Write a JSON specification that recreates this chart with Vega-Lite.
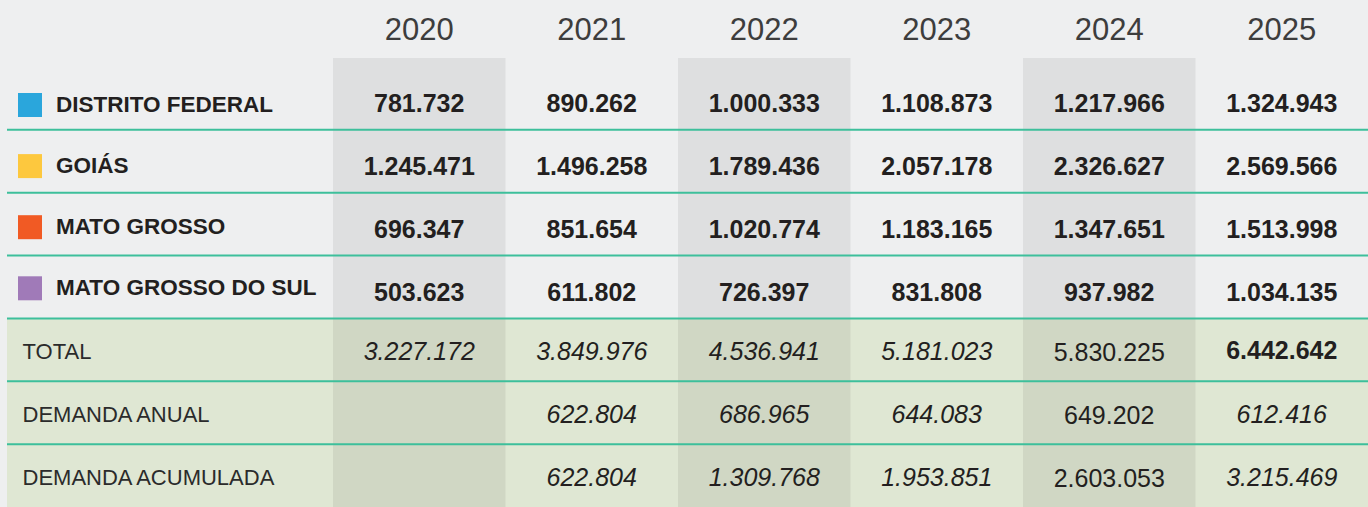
{
  "$schema": "https://vega.github.io/schema/vega-lite/v6.json",
  "width": 1361,
  "height": 449,
  "autosize": {"type": "none"},
  "padding": {"left": 7, "top": 58, "right": 0, "bottom": 0},
  "background": "#eeeff0",
  "config": {
    "view": {"stroke": null},
    "locale": {"number": {"decimal": ",", "thousands": ".", "grouping": [3], "currency": ["R$", ""]}},
    "font": "Liberation Sans, sans-serif"
  },
  "datasets": {
    "rows": [
      {"row": "DISTRITO FEDERAL", "kind": "estado"},
      {"row": "GOIÁS", "kind": "estado"},
      {"row": "MATO GROSSO", "kind": "estado"},
      {"row": "MATO GROSSO DO SUL", "kind": "estado"},
      {"row": "TOTAL", "kind": "total"},
      {"row": "DEMANDA ANUAL", "kind": "total"},
      {"row": "DEMANDA ACUMULADA", "kind": "total"}
    ],
    "years": [{"year": 2020}, {"year": 2021}, {"year": 2022}, {"year": 2023}, {"year": 2024}, {"year": 2025}],
    "cells": [
      {"row": "DISTRITO FEDERAL", "kind": "estado", "year": 2020, "value": 781732},
      {"row": "DISTRITO FEDERAL", "kind": "estado", "year": 2021, "value": 890262},
      {"row": "DISTRITO FEDERAL", "kind": "estado", "year": 2022, "value": 1000333},
      {"row": "DISTRITO FEDERAL", "kind": "estado", "year": 2023, "value": 1108873},
      {"row": "DISTRITO FEDERAL", "kind": "estado", "year": 2024, "value": 1217966},
      {"row": "DISTRITO FEDERAL", "kind": "estado", "year": 2025, "value": 1324943},
      {"row": "GOIÁS", "kind": "estado", "year": 2020, "value": 1245471},
      {"row": "GOIÁS", "kind": "estado", "year": 2021, "value": 1496258},
      {"row": "GOIÁS", "kind": "estado", "year": 2022, "value": 1789436},
      {"row": "GOIÁS", "kind": "estado", "year": 2023, "value": 2057178},
      {"row": "GOIÁS", "kind": "estado", "year": 2024, "value": 2326627},
      {"row": "GOIÁS", "kind": "estado", "year": 2025, "value": 2569566},
      {"row": "MATO GROSSO", "kind": "estado", "year": 2020, "value": 696347},
      {"row": "MATO GROSSO", "kind": "estado", "year": 2021, "value": 851654},
      {"row": "MATO GROSSO", "kind": "estado", "year": 2022, "value": 1020774},
      {"row": "MATO GROSSO", "kind": "estado", "year": 2023, "value": 1183165},
      {"row": "MATO GROSSO", "kind": "estado", "year": 2024, "value": 1347651},
      {"row": "MATO GROSSO", "kind": "estado", "year": 2025, "value": 1513998},
      {"row": "MATO GROSSO DO SUL", "kind": "estado", "year": 2020, "value": 503623},
      {"row": "MATO GROSSO DO SUL", "kind": "estado", "year": 2021, "value": 611802},
      {"row": "MATO GROSSO DO SUL", "kind": "estado", "year": 2022, "value": 726397},
      {"row": "MATO GROSSO DO SUL", "kind": "estado", "year": 2023, "value": 831808},
      {"row": "MATO GROSSO DO SUL", "kind": "estado", "year": 2024, "value": 937982},
      {"row": "MATO GROSSO DO SUL", "kind": "estado", "year": 2025, "value": 1034135},
      {"row": "TOTAL", "kind": "total", "year": 2020, "value": 3227172},
      {"row": "TOTAL", "kind": "total", "year": 2021, "value": 3849976},
      {"row": "TOTAL", "kind": "total", "year": 2022, "value": 4536941},
      {"row": "TOTAL", "kind": "total", "year": 2023, "value": 5181023},
      {"row": "TOTAL", "kind": "total", "year": 2024, "value": 5830225},
      {"row": "TOTAL", "kind": "total", "year": 2025, "value": 6442642},
      {"row": "DEMANDA ANUAL", "kind": "total", "year": 2021, "value": 622804},
      {"row": "DEMANDA ANUAL", "kind": "total", "year": 2022, "value": 686965},
      {"row": "DEMANDA ANUAL", "kind": "total", "year": 2023, "value": 644083},
      {"row": "DEMANDA ANUAL", "kind": "total", "year": 2024, "value": 649202},
      {"row": "DEMANDA ANUAL", "kind": "total", "year": 2025, "value": 612416},
      {"row": "DEMANDA ACUMULADA", "kind": "total", "year": 2021, "value": 622804},
      {"row": "DEMANDA ACUMULADA", "kind": "total", "year": 2022, "value": 1309768},
      {"row": "DEMANDA ACUMULADA", "kind": "total", "year": 2023, "value": 1953851},
      {"row": "DEMANDA ACUMULADA", "kind": "total", "year": 2024, "value": 2603053},
      {"row": "DEMANDA ACUMULADA", "kind": "total", "year": 2025, "value": 3215469}
    ]
  },
  "layer": [
    {
      "data": {"name": "rows"},
      "transform": [{"filter": "datum.kind == 'total'"}],
      "mark": {"type": "rect", "color": "#dfe7d3"},
      "encoding": {
        "y": {
          "field": "row", "type": "nominal",
          "scale": {"domain": ["DISTRITO FEDERAL", "GOIÁS", "MATO GROSSO", "MATO GROSSO DO SUL", "TOTAL", "DEMANDA ANUAL", "DEMANDA ACUMULADA"], "range": [9, 449], "paddingInner": 0, "paddingOuter": 0},
          "axis": {
            "orient": "left", "title": null, "domain": false, "ticks": false, "tickSize": 0, "zindex": 2,
            "labelAlign": "left", "labelBaseline": "middle", "labelPadding": -15, "labelFontSize": 22, "labelColor": "#2b2b2b",
            "labelFont": "Liberation Sans, sans-serif", "labelOffset": 2, "labelLimit": 400, "labelOverlap": false, "labelBound": false,
            "labelExpr": "indexof(['TOTAL','DEMANDA ANUAL','DEMANDA ACUMULADA'], datum.value) >= 0 ? datum.value : ''"
          }
        }
      }
    },
    {
      "data": {"name": "years"},
      "transform": [{"filter": "datum.year % 2 == 0"}],
      "mark": {"type": "rect", "color": "#000000", "opacity": 0.068},
      "encoding": {
        "x": {
          "field": "year", "type": "ordinal",
          "scale": {"domain": [2020, 2021, 2022, 2023, 2024, 2025], "range": [326, 1361], "paddingInner": 0, "paddingOuter": 0},
          "axis": {
            "orient": "top", "title": null, "domain": false, "ticks": false, "tickSize": 0,
            "labelAngle": 0, "labelFontSize": 31, "labelColor": "#3d3d3d", "labelBaseline": "middle", "labelPadding": 28,
            "labelFont": "Liberation Sans, sans-serif"
          }
        }
      }
    },
    {
      "data": {"name": "rows"},
      "transform": [{"filter": "datum.row != 'DEMANDA ACUMULADA'"}],
      "mark": {"type": "rule", "color": "#3dbf9b", "strokeWidth": 2},
      "encoding": {
        "y": {"field": "row", "type": "nominal", "bandPosition": 1}
      }
    },
    {
      "data": {"name": "rows"},
      "transform": [{"filter": "datum.kind == 'estado'"}],
      "mark": {"type": "square", "filled": true, "opacity": 0, "size": 10},
      "encoding": {
        "y": {"field": "row", "type": "nominal"},
        "color": {
          "field": "row", "type": "nominal",
          "scale": {"domain": ["DISTRITO FEDERAL", "GOIÁS", "MATO GROSSO", "MATO GROSSO DO SUL"], "range": ["#2aa6dc", "#fdc83e", "#f15a24", "#a07ab8"]},
          "legend": {
            "orient": "none", "legendX": 11, "legendY": 35, "title": null, "padding": 0,
            "symbolType": "square", "symbolSize": 576, "symbolOpacity": 1, "symbolStrokeWidth": 0,
            "labelFontSize": 22.5, "labelFontWeight": "bold", "labelColor": "#231f20", "labelOffset": 14,
            "labelFont": "Liberation Sans, sans-serif",
            "rowPadding": 37.1, "labelLimit": 400
          }
        }
      }
    },
    {
      "data": {"name": "cells"},
      "transform": [{"filter": "datum.kind == 'estado'"}],
      "mark": {"type": "text", "fontSize": 25, "fontWeight": "bold", "color": "#231f20", "baseline": "middle", "dy": 6},
      "encoding": {
        "x": {"field": "year", "type": "ordinal"},
        "y": {"field": "row", "type": "nominal"},
        "text": {"field": "value", "type": "quantitative", "format": ",d"}
      }
    },
    {
      "data": {"name": "cells"},
      "transform": [{"filter": "datum.kind == 'total' && datum.year != 2024 && !(datum.row == 'TOTAL' && datum.year == 2025)"}],
      "mark": {"type": "text", "fontSize": 25, "fontStyle": "italic", "color": "#231f20", "baseline": "middle", "dy": 2},
      "encoding": {
        "x": {"field": "year", "type": "ordinal"},
        "y": {"field": "row", "type": "nominal"},
        "text": {"field": "value", "type": "quantitative", "format": ",d"}
      }
    },
    {
      "data": {"name": "cells"},
      "transform": [{"filter": "datum.kind == 'total' && datum.year == 2024"}],
      "mark": {"type": "text", "fontSize": 25, "color": "#231f20", "baseline": "middle", "dy": 3},
      "encoding": {
        "x": {"field": "year", "type": "ordinal"},
        "y": {"field": "row", "type": "nominal"},
        "text": {"field": "value", "type": "quantitative", "format": ",d"}
      }
    },
    {
      "data": {"name": "cells"},
      "transform": [{"filter": "datum.row == 'TOTAL' && datum.year == 2025"}],
      "mark": {"type": "text", "fontSize": 25, "fontWeight": "bold", "color": "#231f20", "baseline": "middle", "dy": 1},
      "encoding": {
        "x": {"field": "year", "type": "ordinal"},
        "y": {"field": "row", "type": "nominal"},
        "text": {"field": "value", "type": "quantitative", "format": ",d"}
      }
    }
  ]
}
